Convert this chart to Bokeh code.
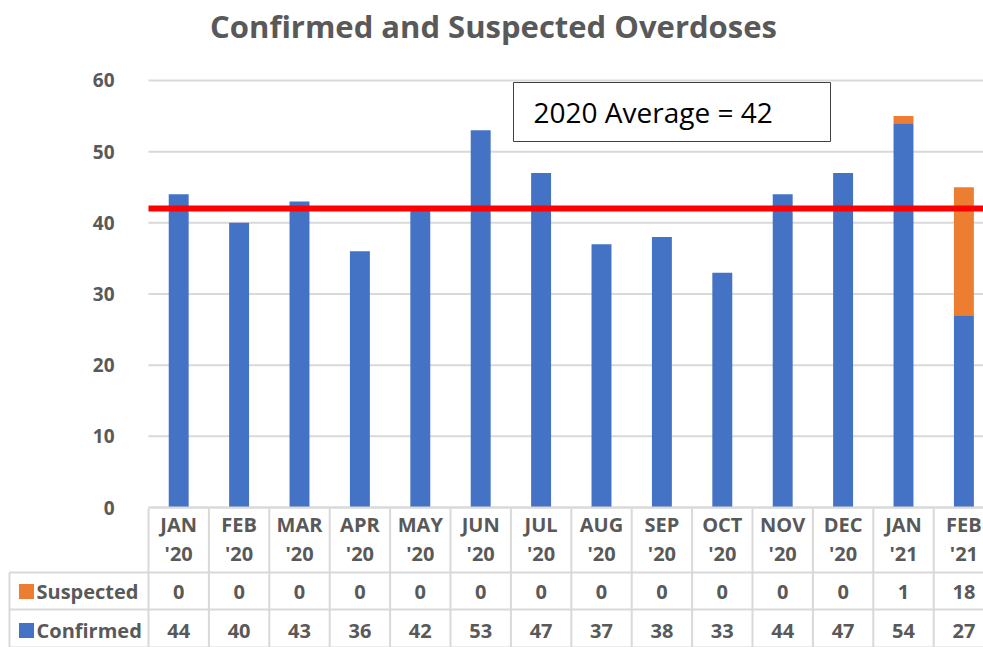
from bokeh.plotting import figure
from bokeh.models import Range1d, ColumnDataSource
from bokeh.core.properties import value
from bokeh.embed import file_html
from bokeh.resources import INLINE

# ---- data ----
months = ["JAN", "FEB", "MAR", "APR", "MAY", "JUN", "JUL", "AUG", "SEP", "OCT", "NOV", "DEC", "JAN", "FEB"]
years = ["'20"] * 12 + ["'21", "'21"]
confirmed = [44, 40, 43, 36, 42, 53, 47, 37, 38, 33, 44, 47, 54, 27]
suspected = [0, 0, 0, 0, 0, 0, 0, 0, 0, 0, 0, 0, 1, 18]
y_ticks = [0, 10, 20, 30, 40, 50, 60]
average_2020 = 42
title_text = "Confirmed and Suspected Overdoses"
box_text = "2020 Average = 42"

BLUE = "#4472C4"
ORANGE = "#ED7D31"
GRAY = "#595959"
GRID = "#D9D9D9"
FONT = "Open Sans"

W, H = 983, 647
OFF = 0  # page offset of the figure
col_px = 60.4
px_per_unit = 7.117
x0_page, y0_page = 148, 507  # page coordinates of (x=-0.5, y=0)
xs = -0.5 - (x0_page - OFF) / col_px
xe = xs + W / col_px
ys = -(OFF + H - y0_page) / px_per_unit
ye = ys + H / px_per_unit

def py(page_y):
    return (y0_page - page_y) / px_per_unit

def px(page_x):
    return -0.5 + (page_x - x0_page) / col_px

p = figure(width=W, height=H, output_backend="svg", toolbar_location=None,
           x_range=Range1d(xs, xe), y_range=Range1d(ys, ye),
           min_border=0, min_border_left=0, min_border_right=0,
           min_border_top=0, min_border_bottom=0)
p.axis.visible = False
p.grid.visible = False
p.outline_line_color = None
p.background_fill_color = "white"
p.border_fill_color = "white"

n = len(months)
idx = list(range(n))
top_total = [c + s for c, s in zip(confirmed, suspected)]
src = ColumnDataSource(dict(x=idx, conf=confirmed, susp=suspected, tot=top_total,
                            month=months, year=years,
                            conf_s=[str(v) for v in confirmed],
                            susp_s=[str(v) for v in suspected]))

# gridlines at y ticks
p.segment(x0=[-0.5] * len(y_ticks), x1=[xe] * len(y_ticks), y0=y_ticks, y1=y_ticks,
          line_color=GRID, line_width=2)
# y tick labels
p.text(x=[px(114)] * len(y_ticks), y=y_ticks, text=[str(t) for t in y_ticks],
       text_align="right", text_baseline="middle", text_font=value(FONT),
       text_font_style="bold", text_font_size="19px", text_color=GRAY)

# bars
bw = 0.33
p.vbar(x="x", bottom=0, top="conf", width=bw, fill_color=BLUE, line_color=None, source=src)
p.vbar(x="x", bottom="conf", top="tot", width=bw, fill_color=ORANGE, line_color=None, source=src)

# average line
p.segment(x0=[-0.5], x1=[xe], y0=[average_2020], y1=[average_2020], line_color="#FF0000", line_width=6)

# text box
p.quad(left=[px(513)], right=[px(830)], top=[py(82)], bottom=[py(141)],
       fill_color="white", line_color="#404040", line_width=1)
p.text(x=[px(533)], y=[py(111)], text=[box_text], text_baseline="middle",
       text_font=value(FONT), text_font_size="28px", text_color="black")

# title
p.text(x=[px(493)], y=[py(25)], text=[title_text], text_align="center", text_baseline="middle",
       text_font=value(FONT), text_font_style="bold", text_font_size="31px", text_color=GRAY)

# ---- data table ----
t_top = py(508)
r1 = py(572)
r2 = py(609)
r3 = py(647)
left = px(9)
# horizontal lines
p.segment(x0=[-0.5, left, left, left], x1=[xe] * 4, y0=[0, r1, r2, r3], y1=[0, r1, r2, r3],
          line_color=GRID, line_width=2)
# vertical lines
vx = [i - 0.5 for i in range(n + 1)]
p.segment(x0=vx, x1=vx, y0=[t_top] * len(vx), y1=[r3] * len(vx), line_color=GRID, line_width=2)
p.segment(x0=[left], x1=[left], y0=[r1], y1=[r3], line_color=GRID, line_width=2)

tstyle = dict(text_align="center", text_baseline="middle", text_font=value(FONT),
              text_font_style="bold", text_font_size="20px", text_color=GRAY)
p.text(x="x", y=py(524), text="month", source=src, **tstyle)
p.text(x="x", y=py(553), text="year", source=src, **tstyle)
p.text(x="x", y=py(591), text="susp_s", source=src, **tstyle)
p.text(x="x", y=py(630), text="conf_s", source=src, **tstyle)

# legend keys in table
p.rect(x=[px(26), px(26)], y=[py(591), py(630)], width=15 / col_px, height=15 / px_per_unit,
       fill_color=[ORANGE, BLUE], line_color=None)
p.text(x=[px(36), px(36)], y=[py(591), py(630)], text=["Suspected", "Confirmed"],
       text_align="left", text_baseline="middle", text_font=value(FONT),
       text_font_style="bold", text_font_size="20px", text_color=GRAY)

open("out.html", "w").write(file_html(p, INLINE))
